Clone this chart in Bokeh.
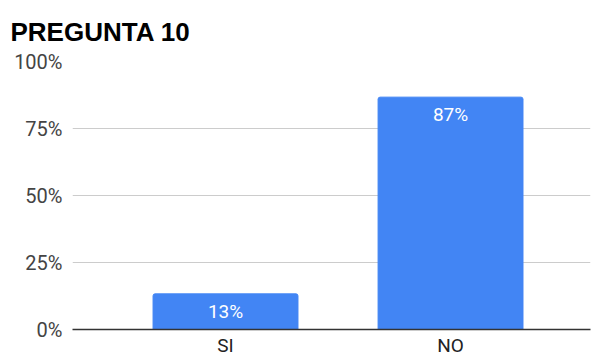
from bokeh.plotting import figure
from bokeh.models import ColumnDataSource, FixedTicker, NumeralTickFormatter
from bokeh.embed import file_html
from bokeh.resources import INLINE
from bokeh.core.properties import value

title_text = "PREGUNTA 10"
categories = ["SI", "NO"]
values = [0.133, 0.867]
labels = ["13%", "87%"]
positions = [1, 2]

src = ColumnDataSource(dict(x=positions, top=values, label=labels))

p = figure(width=593, height=359, output_backend="svg", toolbar_location=None,
           x_range=(0.32, 2.622), y_range=(0, 1),
           min_border_left=72, min_border_right=3, min_border_top=60, min_border_bottom=0)
p.title.text = title_text
p.title.text_font = "Liberation Sans"
p.title.text_font_size = "26px"
p.title.text_font_style = "bold"
p.title.text_color = "#000000"
p.title.offset = -62
p.title.standoff = 29
p.outline_line_color = None

p.vbar(x="x", top="top", width=0.644, bottom=0, source=src, color="#4285F4",
       border_radius=[2, 2, 0, 0])
p.text(x="x", y="top", text="label", source=src, text_color="white",
       text_font=value("Roboto"), text_font_size="19px", text_align="center",
       text_baseline="top", y_offset=6)

p.yaxis.ticker = FixedTicker(ticks=[0, 0.25, 0.5, 0.75, 1])
p.yaxis.formatter = NumeralTickFormatter(format="0%")
p.yaxis.axis_line_color = None
p.yaxis.major_tick_line_color = None
p.yaxis.minor_tick_line_color = None
p.yaxis.major_tick_out = 0
p.yaxis.major_tick_in = 0
p.yaxis.major_label_text_font = "Roboto"
p.yaxis.major_label_text_font_size = "20px"
p.yaxis.major_label_text_color = "#444444"
p.yaxis.major_label_standoff = 10

p.xaxis.ticker = FixedTicker(ticks=positions)
p.xaxis.major_label_overrides = {pos: c for pos, c in zip(positions, categories)}
p.xaxis.axis_line_color = "#333333"
p.xaxis.axis_line_width = 1.5
p.xaxis.major_tick_line_color = None
p.xaxis.minor_tick_line_color = None
p.xaxis.major_tick_out = 0
p.xaxis.major_tick_in = 0
p.xaxis.major_label_text_font = "Roboto"
p.xaxis.major_label_text_font_size = "19px"
p.xaxis.major_label_text_color = "#222222"
p.xaxis.major_label_standoff = 4

p.xgrid.grid_line_color = None
p.ygrid.grid_line_color = "#cccccc"

open("out.html", "w").write(file_html(p, INLINE))
